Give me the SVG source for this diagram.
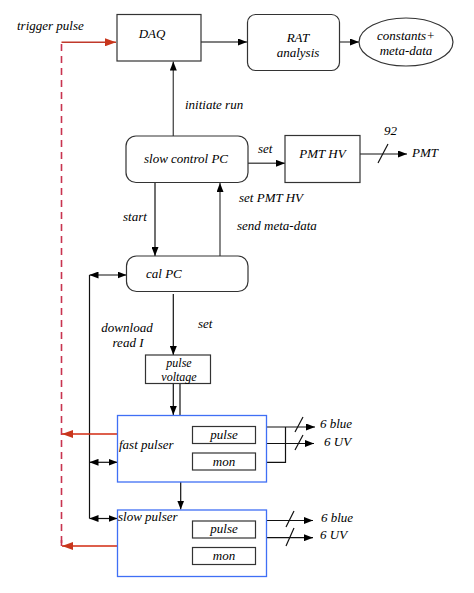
<svg xmlns="http://www.w3.org/2000/svg" width="474" height="593" viewBox="0 0 474 593">
<defs>
<style>
text{font-family:"Liberation Serif","Times New Roman",serif;font-style:italic;font-size:13px;fill:#000}
.m{text-anchor:middle}
.s{font-size:12px}
.box{fill:#fff;stroke:#333;stroke-width:1.2}
.blue{fill:#fff;stroke:#3f6ff5;stroke-width:1.3}
.ln{fill:none;stroke:#111;stroke-width:1.2}
.gr{fill:none;stroke:#555;stroke-width:1.4}
.red{fill:none;stroke:#d22a10;stroke-width:1.4}
.dash{fill:none;stroke:#c8334f;stroke-width:1.6;stroke-dasharray:7,5}
</style>
<marker id="a" viewBox="0 0 9 7" refX="9" refY="3.5" markerWidth="9" markerHeight="7" markerUnits="userSpaceOnUse" orient="auto-start-reverse"><path d="M0,0L9,3.5L0,7z" fill="#000"/></marker>
<marker id="r" viewBox="0 0 11 8" refX="11" refY="4" markerWidth="11" markerHeight="8" markerUnits="userSpaceOnUse" orient="auto"><path d="M0,0L11,4L0,8z" fill="#c8361c"/></marker>
</defs>

<g id="connectors">
<path class="dash" d="M61.5,44V546"/>
<path class="red" d="M61.5,42.3H116" marker-end="url(#r)" style="stroke:#c0392b"/>
<path class="gr" d="M201,42H247" marker-end="url(#a)"/>
<path class="gr" d="M339.5,42H359" marker-end="url(#a)"/>
<path class="gr" d="M173.3,136V61.5" marker-end="url(#a)"/>
<path class="gr" d="M248,163.3H285" marker-end="url(#a)"/>
<path class="ln" d="M360,154H407" marker-end="url(#a)"/>
<path class="ln" d="M378,163L388,144"/>
<path class="ln" d="M155,182.5V256" marker-end="url(#a)"/>
<path class="gr" d="M220,256V183" marker-end="url(#a)"/>
<path class="ln" d="M89.5,275H126.5" marker-start="url(#a)" marker-end="url(#a)"/>
<path class="ln" d="M89.5,275V518.5"/>
<path class="ln" d="M173.3,294V355" marker-end="url(#a)"/>
<path class="ln" d="M173.3,383.5V415" marker-end="url(#a)"/>
<path class="ln" d="M180,383.5V415"/>
<path class="ln" d="M255.5,427H315" marker-end="url(#a)"/>
<path class="ln" d="M255.5,443.5H314" marker-end="url(#a)"/>
<path class="ln" d="M295,432L303,417M295,450L303,435"/>
<path class="ln" d="M285.5,427V462.3H256" marker-end="url(#a)"/>
<path class="ln" d="M89.5,462.3H117.5" marker-start="url(#a)" marker-end="url(#a)"/>
<path class="red" d="M117.5,434H62" marker-end="url(#r)"/>
<path class="ln" d="M180.7,482V509.5" marker-end="url(#a)"/>
<path class="ln" d="M89.5,518.5H117.5" marker-start="url(#a)" marker-end="url(#a)"/>
<path class="ln" d="M192.5,528.3H173.5V555.7H192.5" marker-end="url(#a)"/>
<path class="ln" d="M255.5,520.5H313" marker-end="url(#a)"/>
<path class="ln" d="M255.5,537.7H313" marker-end="url(#a)"/>
<path class="ln" d="M286,527L294,511M286,546L294,528"/>
<path class="red" d="M117.5,546H62" marker-end="url(#r)"/>
<path class="red" d="M61.5,540V546" style="stroke:#c8334f;stroke-width:1.6"/>
</g>

<text x="17" y="30">trigger pulse</text>
<text x="185" y="109">initiate run</text>
<text x="258" y="153">set</text>
<text x="384" y="135">92</text>
<text x="412" y="157">PMT</text>
<text x="123" y="221">start</text>
<text x="239" y="202">set PMT HV</text>
<text x="237" y="230">send meta-data</text>
<text x="198" y="328">set</text>
<text class="m" x="127" y="332">download</text>
<text class="m" x="128" y="346.5">read I</text>
<text x="320" y="428">6 blue</text>
<text x="324" y="445.5">6 UV</text>
<text x="321" y="522">6 blue</text>
<text x="320" y="539">6 UV</text>

<g id="daq"><rect class="box" x="117" y="14.5" width="84" height="46.5"/><text class="m" x="152" y="38">DAQ</text></g>
<g id="rat"><rect class="box" x="247.5" y="14.5" width="92" height="56" rx="8"/><text class="m" x="298" y="42">RAT</text><text class="m" x="298" y="57">analysis</text></g>
<g id="constants"><ellipse class="box" cx="406" cy="42" rx="47" ry="24"/><text class="m" x="406" y="40">constants+</text><text class="m" x="406" y="55">meta-data</text></g>
<g id="slowpc"><rect class="box" x="126" y="136" width="122" height="46.5" rx="10"/><text class="m" x="186" y="163">slow control PC</text></g>
<g id="pmthv"><rect class="box" x="285" y="135.5" width="75" height="47"/><text class="m" x="322.5" y="158">PMT HV</text></g>
<g id="calpc"><rect class="box" x="126.5" y="256" width="121.5" height="35.5" rx="10"/><text x="146" y="277.5">cal PC</text></g>
<g id="pulsevoltage"><rect class="box" x="145.5" y="355" width="65" height="28.5"/><text class="m s" x="179" y="366.5">pulse</text><text class="m s" x="179" y="380.5">voltage</text></g>
<g id="fastpulser"><rect class="blue" x="117.5" y="415.5" width="149" height="66.5"/><text x="119" y="448.5">fast pulser</text>
<rect class="box" x="192.5" y="426.5" width="63" height="17"/><text class="m" x="224" y="439">pulse</text>
<rect class="box" x="192.5" y="453" width="63" height="17"/><text class="m" x="224" y="465.5">mon</text></g>
<g id="slowpulser"><rect class="blue" x="117.5" y="510" width="149" height="66.5"/><text x="118" y="521">slow pulser</text>
<rect class="box" x="192.5" y="521" width="63" height="17"/><text class="m" x="224" y="533">pulse</text>
<rect class="box" x="192.5" y="547.5" width="63" height="17"/><text class="m" x="224" y="559.5">mon</text></g>
</svg>
